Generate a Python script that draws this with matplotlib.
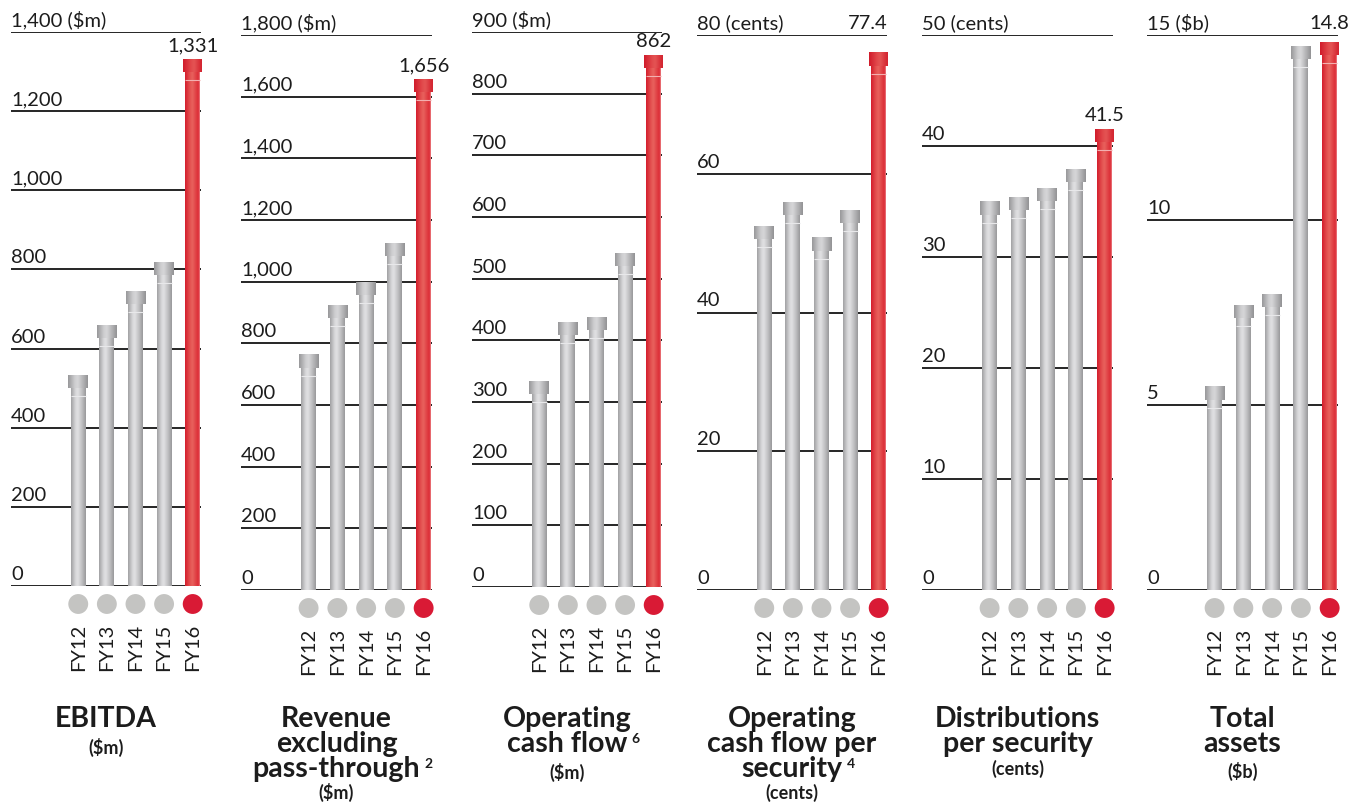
import numpy as np
import matplotlib
matplotlib.use("Agg")
import matplotlib.pyplot as plt
from matplotlib.colors import LinearSegmentedColormap

plt.rcParams['font.family'] = ['Lato', 'DejaVu Sans']

W, H = 1362, 802

# ---- data ----
years = ["FY12", "FY13", "FY14", "FY15", "FY16"]

ebitda = [533, 659, 745, 818, 1331]
revenue = [762, 924, 998, 1125, 1656]
op_cash = [334, 429, 438, 541, 862]
ocf_per_sec = [52.4, 55.9, 50.7, 54.8, 77.4]
distributions = [35.0, 35.4, 36.2, 37.9, 41.5]
total_assets = [5.5, 7.7, 8.0, 14.7, 14.8]

ebitda_ticks = [0, 200, 400, 600, 800, 1000, 1200, 1400]
revenue_ticks = [0, 200, 400, 600, 800, 1000, 1200, 1400, 1600, 1800]
op_cash_ticks = [0, 100, 200, 300, 400, 500, 600, 700, 800, 900]
ocf_ticks = [0, 20, 40, 60, 80]
dist_ticks = [0, 10, 20, 30, 40, 50]
assets_ticks = [0, 5, 10, 15]

units = ["($m)", "($m)", "($m)", "(cents)", "(cents)", "($b)"]
titles = [["EBITDA"],
          ["Revenue", "excluding", "pass-through"],
          ["Operating", "cash flow"],
          ["Operating", "cash flow per", "security"],
          ["Distributions", "per security"],
          ["Total", "assets"]]
supers = [None, "2", "6", "4", None, None]
subs = ["($m)", "($m)", "($m)", "(cents)", "(cents)", "($b)"]

series = [ebitda, revenue, op_cash, ocf_per_sec, distributions, total_assets]
tick_sets = [ebitda_ticks, revenue_ticks, op_cash_ticks, ocf_ticks, dist_ticks, assets_ticks]

# ---- layout (pixels) ----
boxes = [(11, 201, 32, 586), (241, 432, 35, 590), (472, 662, 32, 587),
         (697, 887, 35, 590), (922, 1113, 35, 590), (1147, 1338, 35, 590)]
sub_base = [754, 799, 779, 799, 775, 778]
top_label = [False, False, False, True, False, True]   # value label sits above the top line
label_dx = [0, 0, 0, -11, 0, 0]
line_base = [727, 752, 777]

TXT = "#1c1c1c"
gray_cm = LinearSegmentedColormap.from_list("g", [(0, "#a0a0a2"), (0.3, "#d6d6d8"), (0.45, "#e2e2e4"),
                                                 (0.72, "#c2c2c4"), (1, "#98989a")])
gray_cap = LinearSegmentedColormap.from_list("gc", [(0, "#979799"), (0.35, "#cfcfd1"), (0.5, "#d6d6d8"),
                                                   (0.75, "#b4b4b6"), (1, "#929294")])
red_cm = LinearSegmentedColormap.from_list("r", [(0, "#d41d2c"), (0.35, "#e45452"), (0.5, "#e8625e"),
                                                (0.8, "#de383e"), (0.93, "#dc2a36"), (1, "#f2a6a6")])
red_cap = LinearSegmentedColormap.from_list("rc", [(0, "#d01a2a"), (0.4, "#e24a4c"), (0.55, "#e45454"),
                                                  (0.85, "#d62a34"), (1, "#d02030")])
grad = np.linspace(0, 1, 128).reshape(1, -1)

fig = plt.figure(figsize=(W / 100, H / 100), dpi=100)

XL, XR = -2.35, 4.29

for k, vals in enumerate(series):
    l, r, t, b = boxes[k]
    ax = fig.add_axes([l / W, 1 - b / H, (r - l) / W, (b - t) / H])
    ticks = tick_sets[k]
    ymax = ticks[-1]
    pxx = (r - l) / (XR - XL)        # pixels per x unit
    upy = ymax / (b - t)             # y units per pixel

    for tv in ticks:
        ax.axhline(tv, color="black", lw=1.2, zorder=1)
        lab = f"{tv:,}"
        if tv == ymax:
            lab += " " + units[k]
        ax.annotate(lab, xy=(XL, tv), xytext=(0, 6), textcoords="offset pixels",
                    ha="left", va="baseline", fontsize=14.5, color=TXT, annotation_clip=False)

    body_w = 15 / pxx
    cap_w = 19.5 / pxx
    cap_h = 13 * upy
    for i, v in enumerate(vals):
        last = i == len(vals) - 1
        cm_b = red_cm if last else gray_cm
        cm_c = red_cap if last else gray_cap
        ax.imshow(grad, cmap=cm_b, extent=(i - body_w / 2, i + body_w / 2, 0, v - cap_h),
                  aspect="auto", interpolation="bicubic", zorder=2)
        ax.imshow(grad, cmap=cm_c, extent=(i - cap_w / 2, i + cap_w / 2, v - cap_h, v),
                  aspect="auto", interpolation="bicubic", zorder=3)
        hl = v - cap_h - 8 * upy
        ax.plot([i - body_w / 2, i + body_w / 2], [hl, hl], lw=0.8,
                color="#f3b0b0" if last else "#e8e8ea", zorder=4, solid_capstyle="butt")

    # value label for FY16
    v = vals[-1]
    fmt = f"{v:,.0f}" if v >= 100 else f"{v:.1f}"
    if top_label[k]:
        ax.annotate(fmt, xy=(len(vals) - 1, ymax), xytext=(label_dx[k], 6), textcoords="offset pixels",
                    ha="center", va="baseline", fontsize=14.5, color=TXT, annotation_clip=False)
    else:
        ax.annotate(fmt, xy=(len(vals) - 1, v), xytext=(label_dx[k], 8), textcoords="offset pixels",
                    ha="center", va="baseline", fontsize=14.5, color=TXT, annotation_clip=False)

    # circles and year labels under the axis
    tr = ax.get_xaxis_transform()
    ah = b - t
    xs = np.arange(len(vals))
    ax.scatter(xs, [-18 / ah] * len(xs), s=205, transform=tr, clip_on=False, lw=0,
               c=["#c4c4c2"] * (len(xs) - 1) + ["#d91a35"], zorder=5)
    for i, yr in enumerate(years):
        ax.text(i, -38 / ah, yr, transform=tr, rotation=90, ha="center", va="top",
                fontsize=14.5, color=TXT, clip_on=False)

    ax.set_xlim(XL, XR)
    ax.set_ylim(0, ymax)
    ax.axis("off")

    # titles
    cx = (l + r) / 2 / W
    last_t = None
    for j, line in enumerate(titles[k]):
        last_t = fig.text(cx, 1 - line_base[j] / H, line, ha="center", va="baseline",
                          fontsize=20.5, fontweight="bold", color=TXT)
    if supers[k]:
        ax.annotate(supers[k], xy=(1, 1), xycoords=last_t, xytext=(4, -2), textcoords="offset pixels",
                    ha="left", va="top", fontsize=10, fontweight="bold", color=TXT,
                    annotation_clip=False)
    fig.text(cx, 1 - sub_base[k] / H, subs[k], ha="center", va="baseline",
             fontsize=13, fontweight="bold", color=TXT)

fig.savefig("out.png", dpi=100)
